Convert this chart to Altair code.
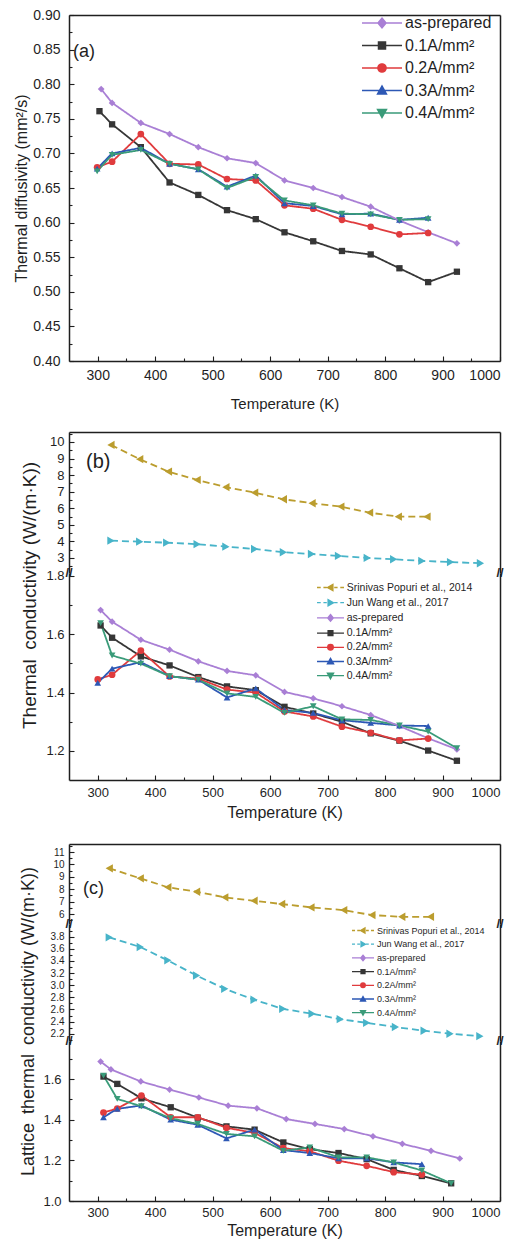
import altair as alt
import pandas as pd

FONT = "Liberation Sans"
INK = "#1f1f1f"
W = 431

# ---------------- series metadata ----------------
names = ["Srinivas Popuri et al., 2014", "Jun Wang et al., 2017", "as-prepared",
         "0.1A/mm²", "0.2A/mm²", "0.3A/mm²", "0.4A/mm²"]
colors = ["#bb9d2e", "#48b4c9", "#a97fd5", "#363636", "#e03b3d", "#2d58b5", "#3a9b79"]
shapes = ["triangle-left", "triangle-right", "diamond", "square", "circle", "triangle-up", "triangle-down"]
dashes = [[7, 4], [7, 4], [1, 0], [1, 0], [1, 0], [1, 0], [1, 0]]
line_widths = [1.8, 1.8, 1.5, 1.5, 1.5, 1.5, 1.5]
marker_sizes = [70, 70, 45, 40, 45, 45, 45]

# legend glyphs: a line (dashed for literature) through a marker drawn as nested outlines
DL = "M-2,0H-1.45M-1.05,0H-0.55M0.55,0H1.05M1.45,0H2"
SL = "M-2,0H2"
POLYS = {
    "diamond": [(0, -0.5), (0.42, 0), (0, 0.5), (-0.42, 0)],
    "square": [(-0.36, -0.36), (0.36, -0.36), (0.36, 0.36), (-0.36, 0.36)],
    "triangle-up": [(0, -0.46), (0.46, 0.36), (-0.46, 0.36)],
    "triangle-down": [(0, 0.46), (0.46, -0.36), (-0.46, -0.36)],
    "triangle-left": [(-0.46, 0), (0.36, -0.46), (0.36, 0.46)],
    "triangle-right": [(0.46, 0), (-0.36, -0.46), (-0.36, 0.46)],
}
RINGS = [1.0, 0.72, 0.45, 0.2]


def marker_path(shape):
    out = ""
    for k in RINGS:
        if shape == "circle":
            r = 0.42 * k
            out += f"M{-r:.3f},0A{r:.3f},{r:.3f},0,1,0,{r:.3f},0A{r:.3f},{r:.3f},0,1,0,{-r:.3f},0Z"
        else:
            pts = POLYS[shape]
            out += "M" + "L".join(f"{x * k:.3f},{y * k:.3f}" for x, y in pts) + "Z"
    return out


legend_paths = [(DL if i < 2 else SL) + marker_path(s) for i, s in enumerate(shapes)]

# ---------------- ticks ----------------
x_ticks = [300, 400, 500, 600, 700, 800, 900, 1000]
x_minor = [350, 450, 550, 650, 750, 850, 950]

# ---------------- panel (a): thermal diffusivity ----------------
a_T_prep = [306, 325, 375, 425, 475, 525, 575, 625, 675, 725, 775, 825, 875, 925]
a_prep = [0.793, 0.773, 0.744, 0.728, 0.709, 0.693, 0.686, 0.661, 0.650, 0.637, 0.623, 0.603, 0.586, 0.570]
a_T_01 = [303, 325, 375, 425, 475, 525, 575, 625, 675, 725, 775, 825, 875, 925]
a_01 = [0.761, 0.742, 0.709, 0.658, 0.640, 0.618, 0.605, 0.586, 0.573, 0.559, 0.554, 0.534, 0.514, 0.529]
a_T_234 = [299, 325, 375, 425, 475, 525, 575, 625, 675, 725, 775, 825, 875]
a_02 = [0.680, 0.688, 0.728, 0.685, 0.684, 0.663, 0.661, 0.625, 0.620, 0.604, 0.594, 0.583, 0.585]
a_03 = [0.678, 0.700, 0.708, 0.685, 0.677, 0.652, 0.668, 0.628, 0.624, 0.612, 0.613, 0.604, 0.607]
a_04 = [0.674, 0.698, 0.705, 0.685, 0.677, 0.650, 0.666, 0.632, 0.625, 0.613, 0.612, 0.604, 0.605]

# ---------------- panel (b): thermal conductivity ----------------
b_T_sp = [323, 373, 423, 473, 523, 573, 623, 673, 723, 773, 823, 873]
b_sp = [9.82, 8.96, 8.21, 7.71, 7.27, 6.94, 6.54, 6.30, 6.10, 5.73, 5.49, 5.49]
b_T_jw = [323, 373, 420, 473, 523, 573, 623, 672, 719, 769, 815, 864, 914, 966]
b_jw = [4.04, 3.98, 3.92, 3.83, 3.68, 3.54, 3.34, 3.24, 3.12, 3.00, 2.92, 2.82, 2.75, 2.68]
b_T_full = [305, 325, 375, 425, 475, 525, 575, 625, 675, 725, 775, 825, 875, 925]
b_prep = [1.683, 1.643, 1.581, 1.547, 1.507, 1.474, 1.459, 1.402, 1.380, 1.353, 1.323, 1.285, 1.243, 1.205]
b_01 = [1.630, 1.588, 1.524, 1.493, 1.453, 1.421, 1.408, 1.351, 1.328, 1.300, 1.260, 1.235, 1.201, 1.166]
b_04 = [1.638, 1.527, 1.499, 1.456, 1.444, 1.397, 1.385, 1.330, 1.353, 1.308, 1.306, 1.287, 1.266, 1.209]
b_T_23 = [300, 325, 375, 425, 475, 525, 575, 625, 675, 725, 775, 825, 875]
b_02 = [1.445, 1.461, 1.544, 1.455, 1.448, 1.410, 1.400, 1.335, 1.318, 1.283, 1.262, 1.236, 1.242]
b_03 = [1.433, 1.482, 1.504, 1.456, 1.444, 1.383, 1.414, 1.340, 1.330, 1.305, 1.296, 1.287, 1.285]

# ---------------- panel (c): lattice thermal conductivity ----------------
c_T_sp = [320, 374, 422, 472, 521, 572, 620, 671, 728, 777, 829, 879]
c_sp = [9.69, 8.88, 8.16, 7.80, 7.35, 7.07, 6.81, 6.54, 6.32, 5.92, 5.78, 5.78]
c_T_jw = [320, 374, 422, 472, 521, 572, 622, 673, 722, 768, 818, 868, 913, 965]
c_jw = [3.79, 3.63, 3.41, 3.16, 2.94, 2.76, 2.61, 2.53, 2.44, 2.38, 2.31, 2.25, 2.20, 2.16]
c_T_prep = [305, 323, 375, 425, 476, 527, 577, 628, 678, 729, 779, 830, 880, 930]
c_prep = [1.686, 1.647, 1.588, 1.548, 1.509, 1.469, 1.456, 1.403, 1.379, 1.354, 1.318, 1.281, 1.247, 1.209]
c_T = [310, 334, 376, 427, 474, 524, 573, 623, 669, 719, 768, 815, 864, 915]
c_01 = [1.612, 1.576, 1.505, 1.461, 1.410, 1.367, 1.351, 1.288, 1.255, 1.236, 1.206, 1.153, 1.123, 1.087]
c_04 = [1.617, 1.502, 1.466, 1.407, 1.379, 1.330, 1.318, 1.247, 1.264, 1.215, 1.215, 1.190, 1.150, 1.087]
c_T_23 = [310, 334, 376, 427, 474, 524, 573, 623, 669, 719, 768, 815, 864]
c_02 = [1.435, 1.455, 1.519, 1.412, 1.412, 1.360, 1.335, 1.260, 1.245, 1.198, 1.173, 1.142, 1.130]
c_03 = [1.412, 1.453, 1.470, 1.400, 1.375, 1.308, 1.351, 1.250, 1.236, 1.210, 1.210, 1.190, 1.181]

panel_labels = ["(a)", "(b)", "(c)"]
break_mark = "//"


def frame(*triples):
    rows = []
    for name, ts, vs in triples:
        rows += [{"series": name, "T": t, "v": v} for t, v in zip(ts, vs)]
    return pd.DataFrame(rows)


color_scale = alt.Scale(domain=names, range=colors)
dash_scale = alt.Scale(domain=names, range=dashes)
width_scale = alt.Scale(domain=names, range=line_widths)
legend_shape_scale = alt.Scale(domain=names, range=legend_paths)


def tick_axis(orient, offset, values, size):
    return alt.Axis(orient=orient, offset=offset, values=values, labels=False, domain=False,
                    ticks=True, tickSize=size, tickColor=INK, tickWidth=1.1, grid=False,
                    title=None, minExtent=0, maxExtent=0)


def border_axis(orient, extent=0):
    return alt.Axis(orient=orient, labels=False, ticks=False, domain=True, domainColor=INK,
                    domainWidth=1.5, grid=False, title=None, minExtent=extent, maxExtent=extent)


def text_layer(txt, x, y, size, align="left", weight="normal"):
    return alt.Chart(pd.DataFrame({"t": [txt]})).mark_text(
        font=FONT, fontSize=size, align=align, baseline="middle", color=INK, fontWeight=weight
    ).encode(x=alt.value(x), y=alt.value(y), text="t:N")


def breaks(H):
    return [text_layer(break_mark, 0, H, 13, "center", "bold"),
            text_layer(break_mark, W, H, 13, "center", "bold")]


def legend_layer(leg_names, x0, y0, size, font, offset, rowpad):
    leg = alt.Legend(orient="none", legendX=x0, legendY=y0, title=None, padding=0,
                     values=leg_names, labelFont=FONT, labelFontSize=font, labelColor=INK,
                     labelOffset=offset, rowPadding=rowpad, symbolSize=size,
                     symbolStrokeWidth=1.3, symbolOpacity=1, labelLimit=400)
    d = pd.DataFrame({"series": leg_names})
    return alt.Chart(d).transform_filter("false").mark_point(
        filled=False, strokeWidth=1.3, opacity=1).encode(
        color=alt.Color("series:N", scale=color_scale, legend=leg),
        shape=alt.Shape("series:N", scale=legend_shape_scale, legend=leg),
    )


def seg(df, H, ydom, ymaj, ymin, yfmt, ylab, top, bottom, ypad=6, xlab=13, xpad=6,
        ytitle=None, ytx=-45, yty=0, ytsize=15, xty=40, xtsize=15, legend=None, extras=(),
        top_extent=0):
    xs = alt.Scale(domain=[250, 1000], nice=False, zero=False)
    ys = alt.Scale(domain=ydom, nice=False, zero=False)
    ykw = dict(values=ymaj, format=yfmt, labelFontSize=ylab, labelFont=FONT, labelColor=INK,
               labelPadding=ypad, labelOverlap=False, ticks=False, grid=False, domain=True,
               domainColor=INK, domainWidth=1.5)
    if ytitle:
        ykw.update(title=ytitle, titleFont=FONT, titleFontSize=ytsize, titleFontWeight="normal",
                   titleColor=INK, titleX=ytx, titleY=yty, titleBaseline="middle", titleAngle=270)
    else:
        ykw.update(title=None)
    yaxis = alt.Axis(**ykw)
    if bottom:
        xaxis = alt.Axis(values=x_ticks, format="d", labelFontSize=xlab, labelFont=FONT,
                         labelColor=INK, labelPadding=xpad, ticks=False, grid=False, domain=True,
                         domainColor=INK, domainWidth=1.5, title="Temperature (K)", titleFont=FONT,
                         titleFontSize=xtsize, titleFontWeight="normal", titleColor=INK,
                         titleY=xty, titleBaseline="middle")
    else:
        xaxis = None

    lines = alt.Chart(df).mark_line(clip=True).encode(
        x=alt.X("T:Q", scale=xs, axis=xaxis),
        y=alt.Y("v:Q", scale=ys, axis=yaxis),
        color=alt.Color("series:N", scale=color_scale, legend=None),
        strokeDash=alt.StrokeDash("series:N", scale=dash_scale, legend=None),
        strokeWidth=alt.StrokeWidth("series:N", scale=width_scale, legend=None),
        detail="series:N",
    )
    present = set(df["series"])
    point_layers = []
    for i, nm in enumerate(names):
        if nm not in present:
            continue
        point_layers.append(
            alt.Chart(df).transform_filter(alt.datum.series == nm).mark_point(
                filled=True, opacity=1, clip=True, shape=shapes[i], size=marker_sizes[i]
            ).encode(
                x=alt.X("T:Q", scale=xs, axis=None),
                y=alt.Y("v:Q", scale=ys, axis=None),
                color=alt.Color("series:N", scale=color_scale, legend=None),
            )
        )
    empty = alt.Chart(df).transform_filter("false").mark_point()
    h1 = empty.encode(
        x=alt.X("T:Q", scale=xs, axis=tick_axis("top", -H, x_ticks, 5) if bottom else None),
        y=alt.Y("v:Q", scale=ys, axis=tick_axis("right", -W, ymaj, 5)),
    )
    h2 = empty.encode(
        x=alt.X("T:Q", scale=xs, axis=tick_axis("top", -H, x_minor, 3) if bottom else None),
        y=alt.Y("v:Q", scale=ys, axis=tick_axis("right", -W, ymin, 3)),
    )
    h3 = empty.encode(
        x=alt.X("T:Q", scale=xs, axis=border_axis("top", top_extent) if top else None),
        y=alt.Y("v:Q", scale=ys, axis=border_axis("right")),
    )
    layers = ([legend] if legend is not None else []) + [lines] + point_layers + [h1, h2, h3] + list(extras)
    if not bottom:
        layers += breaks(H)
    return alt.layer(*layers).properties(width=W, height=H).resolve_axis(
        x="independent", y="independent")


# ---------------- build panels ----------------
a_df = frame((names[3], a_T_01, a_01), (names[4], a_T_234, a_02), (names[5], a_T_234, a_03),
             (names[6], a_T_234, a_04), (names[2], a_T_prep, a_prep))
b_up_df = frame((names[0], b_T_sp, b_sp), (names[1], b_T_jw, b_jw))
b_lo_df = frame((names[3], b_T_full, b_01), (names[4], b_T_23, b_02), (names[5], b_T_23, b_03),
                (names[6], b_T_full, b_04), (names[2], b_T_full, b_prep))
c_up_df = frame((names[0], c_T_sp, c_sp))
c_mid_df = frame((names[1], c_T_jw, c_jw))
c_lo_df = frame((names[3], c_T, c_01), (names[4], c_T_23, c_02), (names[5], c_T_23, c_03),
                (names[6], c_T, c_04), (names[2], c_T_prep, c_prep))

a_ymaj = [0.40, 0.45, 0.50, 0.55, 0.60, 0.65, 0.70, 0.75, 0.80, 0.85, 0.90]
a_ymin = [0.425, 0.475, 0.525, 0.575, 0.625, 0.675, 0.725, 0.775, 0.825, 0.875]

panel_a = seg(a_df, 346, [0.40, 0.90], a_ymaj, a_ymin, ".2f", 14, True, True, ypad=9, xlab=14, xpad=7,
              ytitle="Thermal diffusivity (mm²/s)", ytx=-48, yty=173, ytsize=16, xty=42, xtsize=15,
              legend=legend_layer(names[2:], 302, -3, 400, 16, 12, 3.5),
              extras=[text_layer(panel_labels[0], 4, 37, 18)])

b_up = seg(b_up_df, 141, [2.09, 10.6], [3, 4, 5, 6, 7, 8, 9, 10],
           [2.5, 3.5, 4.5, 5.5, 6.5, 7.5, 8.5, 9.5, 10.5], "d", 13, True, False, ypad=5,
           extras=[text_layer(panel_labels[1], 17, 30, 20)])
b_lo = seg(b_lo_df, 207, [1.10, 1.81], [1.2, 1.4, 1.6, 1.8], [1.3, 1.5, 1.7], ".1f", 13, False, True,
           ypad=5, xlab=13, xpad=6, ytitle="Thermal\u2002conductivity (W/(m·K))", ytx=-40, yty=22,
           ytsize=19, xty=32, xtsize=16,
           legend=legend_layer(names, 254, 7, 182, 10.5, 8.75, 1.2))

c_up = seg(c_up_df, 80, [5.2, 11.65], [6, 7, 8, 9, 10, 11], [5.5, 6.5, 7.5, 8.5, 9.5, 10.5, 11.5],
           "d", 10, True, False, ypad=5, top_extent=3,
           extras=[text_layer(panel_labels[2], 14, 45, 18)])
c_mid = seg(c_mid_df, 117, [2.08, 4.01], [2.2, 2.4, 2.6, 2.8, 3.0, 3.2, 3.4, 3.6, 3.8],
            [2.1, 2.3, 2.5, 2.7, 2.9, 3.1, 3.3, 3.5, 3.7, 3.9], ".1f", 10, False, False, ypad=5,
            legend=legend_layer(names, 287.5, 0, 121, 9, 7.5, 1.7))
c_lo = seg(c_lo_df, 160, [1.0, 1.787], [1.0, 1.2, 1.4, 1.6], [1.1, 1.3, 1.5, 1.7], ".1f", 13,
           False, True, ypad=8, xlab=13, xpad=5,
           ytitle="Lattice\u2002thermal\u2002conductivity (W/(m·K))", ytx=-41, yty=-20, ytsize=18,
           xty=29, xtsize=16)

RES = dict(x="independent", y="independent", color="independent", shape="independent")

panel_b = alt.vconcat(b_up, b_lo, spacing=0, bounds="flush").resolve_scale(**RES).resolve_axis(
    x="independent", y="independent")
panel_c = alt.vconcat(c_up, c_mid, c_lo, spacing=0, bounds="flush").resolve_scale(**RES).resolve_axis(
    x="independent", y="independent")

chart = alt.vconcat(panel_a, panel_b, panel_c, spacing=21).resolve_scale(**RES).resolve_axis(
    x="independent", y="independent").properties(
    padding={"left": 5, "top": 0, "right": 4, "bottom": 3}
).configure(font=FONT).configure_view(stroke=None)

chart.save("out.html", embed_options={"renderer": "svg", "actions": False})
